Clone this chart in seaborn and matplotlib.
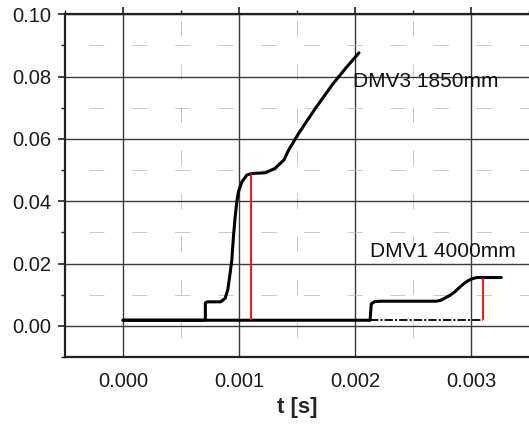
import matplotlib
matplotlib.use("Agg")
import matplotlib.pyplot as plt
import seaborn as sns
import pandas as pd
from matplotlib.ticker import MultipleLocator, FixedLocator

# ---- data ----
dmv3_t = [0.0, 0.00071, 0.00071, 0.00073, 0.000765, 0.00084, 0.00088, 0.000903,
          0.000923, 0.000938, 0.000952, 0.000967, 0.000981, 0.000995, 0.001025,
          0.001068, 0.00111, 0.001226, 0.00131, 0.00134, 0.001387, 0.001428,
          0.001515, 0.001659, 0.001803, 0.001918, 0.002034]
dmv3_v = [0.0018, 0.0018, 0.0074, 0.0077, 0.0077, 0.0077, 0.0088, 0.0115,
          0.0168, 0.0211, 0.0286, 0.0350, 0.0398, 0.0430, 0.0462,
          0.0484, 0.0489, 0.0491, 0.0505, 0.0516, 0.0532, 0.0564,
          0.0618, 0.0698, 0.0773, 0.0826, 0.0876]
dmv1_t = [0.0, 0.00213, 0.00214, 0.00217, 0.00222, 0.00270, 0.00274, 0.00277,
          0.00282, 0.00286, 0.00290, 0.00294, 0.00298, 0.00301, 0.00305, 0.00326]
dmv1_v = [0.0018, 0.0018, 0.0070, 0.0078, 0.0079, 0.0079, 0.0082, 0.0088,
          0.0098, 0.0109, 0.0123, 0.0136, 0.0146, 0.0151, 0.0155, 0.0155]
dash_t = [0.00213, 0.00310]
dash_v = [0.0018, 0.0018]
red_t = [0.00110, 0.00310]
red_lo = [0.0018, 0.0018]
red_hi = [0.0489, 0.0155]
labels = ["DMV3 1850mm", "DMV1 4000mm"]
label_t = [0.00198, 0.00213]
label_v = [0.0784, 0.0238]
x_ticks = [0.000, 0.001, 0.002, 0.003]
x_ticklabels = ["0.000", "0.001", "0.002", "0.003"]
y_ticks = [0.00, 0.02, 0.04, 0.06, 0.08, 0.10]
y_ticklabels = ["0.00", "0.02", "0.04", "0.06", "0.08", "0.10"]
x_label = "t [s]"

sns.set_style("white")
plt.rcParams['font.family'] = ['Liberation Sans', 'DejaVu Sans']
plt.rcParams['lines.scale_dashes'] = False

W, H = 529, 425
fig = plt.figure(figsize=(W / 100, H / 100), dpi=100)
ax = fig.add_axes([65 / W, 68 / H, 464 / W, 342.8 / H])
ax.set_xlim(-0.0005, 0.0035)
ax.set_ylim(-0.01, 0.10)

ax.xaxis.set_major_locator(FixedLocator(x_ticks))
ax.xaxis.set_minor_locator(MultipleLocator(0.0005))
ax.yaxis.set_major_locator(FixedLocator(y_ticks))
ax.yaxis.set_minor_locator(MultipleLocator(0.01))

# grids
ax.xaxis.grid(True, which='major', color='#3a3a3a', lw=1.0, ls='-')
ax.yaxis.grid(True, which='major', color='#3a3a3a', lw=1.0, ls='-')
ax.xaxis.grid(True, which='minor', color='#b4b4b4', lw=0.5, ls=(17, (11, 20)))
ax.yaxis.grid(True, which='minor', color='#b4b4b4', lw=0.5, ls=(14, (11, 20)))
ax.set_axisbelow(True)

df3 = pd.DataFrame({"t": dmv3_t, "v": dmv3_v})
df1 = pd.DataFrame({"t": dmv1_t, "v": dmv1_v})
sns.lineplot(data=df1, x="t", y="v", ax=ax, color="black", lw=2.2,
             estimator=None, sort=False)
sns.lineplot(data=df3, x="t", y="v", ax=ax, color="black", lw=2.2,
             estimator=None, sort=False)
sns.lineplot(x=dash_t, y=dash_v, ax=ax, color="black", lw=1.3,
             linestyle=(0, (6, 1.5, 1.5, 1.5)), estimator=None, sort=False)
ax.vlines(red_t, red_lo, red_hi, colors="red", lw=1.3, zorder=3)

for s, tx, vy in zip(labels, label_t, label_v):
    ax.text(tx, vy, s, fontsize=15, ha="left", va="center", color="#111111")

ax.set_xticklabels(x_ticklabels)
ax.set_yticklabels(y_ticklabels)
ax.set_xlabel(x_label, fontsize=16, fontweight="bold", labelpad=4)
ax.set_ylabel("")

for side in ["left", "bottom", "top"]:
    ax.spines[side].set_visible(True)
    ax.spines[side].set_color("#222222")
    ax.spines[side].set_linewidth(1.6)
ax.spines["right"].set_visible(False)

ax.tick_params(axis='both', which='major', labelsize=14.5, colors="#222222",
               length=5, width=1.2, labelcolor="#1a1a1a")
ax.tick_params(axis='both', which='minor', length=3, width=1.0, colors="#222222")
ax.tick_params(axis='x', which='major', direction='out', top=True, pad=6)
ax.tick_params(axis='x', which='minor', direction='out', top=True)
ax.tick_params(axis='y', which='both', direction='out', left=True, right=False, pad=5)

fig.savefig("out.png", dpi=100)
